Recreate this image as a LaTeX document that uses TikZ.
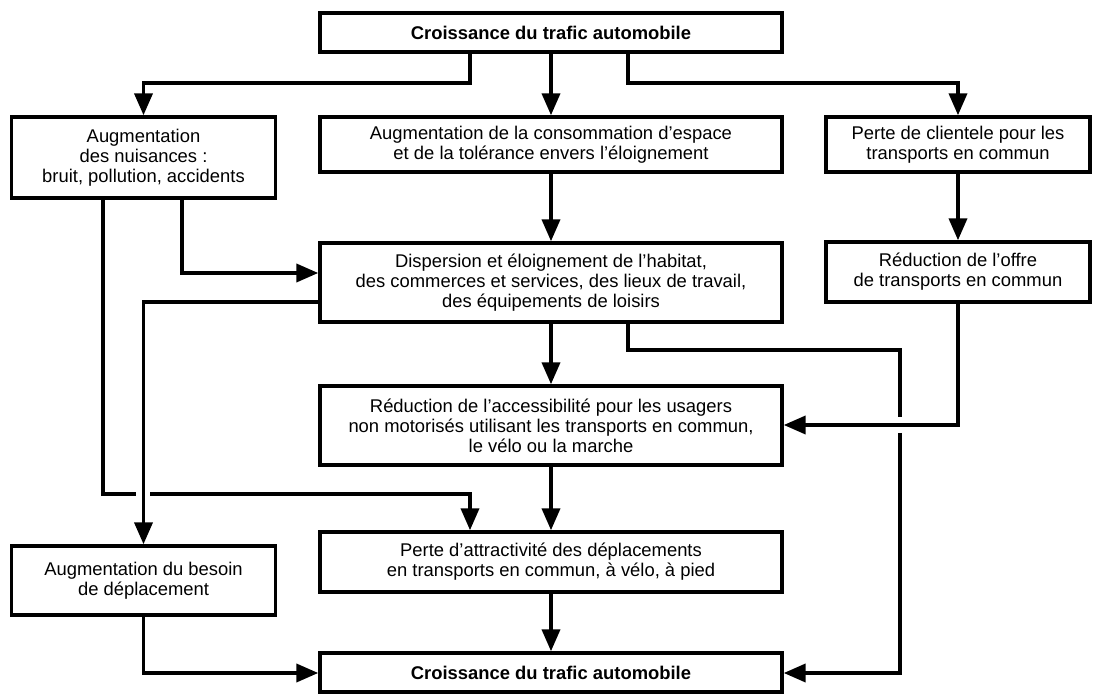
\documentclass[tikz,border=0pt]{standalone}
\usepackage{fontspec}
\setmainfont{Liberation Sans}
\usetikzlibrary{arrows.meta}
\begin{document}
\begin{tikzpicture}[x=0.5pt,y=-0.5pt,
  box/.style={draw, line width=1.7pt, align=center, inner sep=0pt,
    font=\fontsize{9.2}{10}\selectfont},
  wide/.style={minimum width=231pt},
  side/.style={minimum width=132pt},
  conn/.style={line width=1.9pt, -{Triangle[length=11pt,width=9pt]}},
  plain/.style={line width=1.9pt}]
\useasboundingbox (0,0) rectangle (1094,695);

% boxes
\node[box, wide, minimum height=19.5pt] (top) at (551,32.5) {\textbf{Croissance du trafic automobile}};
\node[box, side, minimum height=40.5pt] (nuis) at (143.5,157.5) {Augmentation\\des nuisances :\\bruit, pollution, accidents};
\node[box, wide, minimum height=27.5pt] (cons) at (551,144.5) {Augmentation de la consommation d'espace\\et de la tolérance envers l'éloignement};
\node[box, side, minimum height=27.5pt] (client) at (958,144.5) {Perte de clientele pour les\\transports en commun};
\node[box, wide, minimum height=39.5pt] (disp) at (551,282.5) {Dispersion et éloignement de l'habitat,\\des commerces et services, des lieux de travail,\\des équipements de loisirs};
\node[box, side, minimum height=30pt] (offre) at (958,272) {Réduction de l'offre\\de transports en commun};
\node[box, wide, minimum height=39.5pt] (access) at (551,425.5) {Réduction de l'accessibilité pour les usagers\\non motorisés utilisant les transports en commun,\\le vélo ou la marche};
\node[box, wide, minimum height=30pt] (attract) at (551,562) {Perte d'attractivité des déplacements\\en transports en commun, à vélo, à pied};
\node[box, side, minimum height=34.5pt] (besoin) at (143.5,580.5) {Augmentation du besoin\\de déplacement};
\node[box, wide, minimum height=19.5pt] (bottom) at (551,672.5) {\textbf{Croissance du trafic automobile}};

% helper coordinates
\coordinate (a1) at (470,83);
\coordinate (a3) at (628,83);
\coordinate (c5) at (182,273);
\coordinate (c6) at (103,494);
\coordinate (g1) at (136,494);
\coordinate (g2) at (150,494);
\coordinate (c6b) at (470,494);
\coordinate (c7) at (143.5,302);
\coordinate (c9a) at (628,350);
\coordinate (c9b) at (900,350);
\coordinate (g3) at (900,417);
\coordinate (g4) at (900,433);
\coordinate (c9c) at (900,673);
\coordinate (c11) at (958,425);
\coordinate (c14) at (143.5,673);

% connectors
\draw[conn] (top.south -| a1) -- (a1) -| (nuis.north);
\draw[conn] (top) -- (cons);
\draw[conn] (top.south -| a3) -- (a3) -| (client.north);
\draw[conn] (cons) -- (disp);
\draw[conn] (client) -- (offre);
\draw[conn] (nuis.south -| c5) |- (disp.west |- c5);
\draw[plain] (nuis.south -| c6) -- (c6) -- (g1);
\draw[conn] (g2) -- (c6b) -- (attract.north -| c6b);
\draw[conn] (disp.west |- c7) -- (c7) -- (besoin.north);
\draw[conn] (disp) -- (access);
\draw[plain] (disp.south -| c9a) -- (c9a) -- (c9b) -- (g3);
\draw[conn] (g4) -- (c9c) -- (bottom.east |- c9c);
\draw[conn] (offre.south -| c11) -- (c11) -- (access.east |- c11);
\draw[conn] (access) -- (attract);
\draw[conn] (attract) -- (bottom);
\draw[conn] (besoin.south -| c14) -- (c14) -- (bottom.west |- c14);
\end{tikzpicture}
\end{document}
